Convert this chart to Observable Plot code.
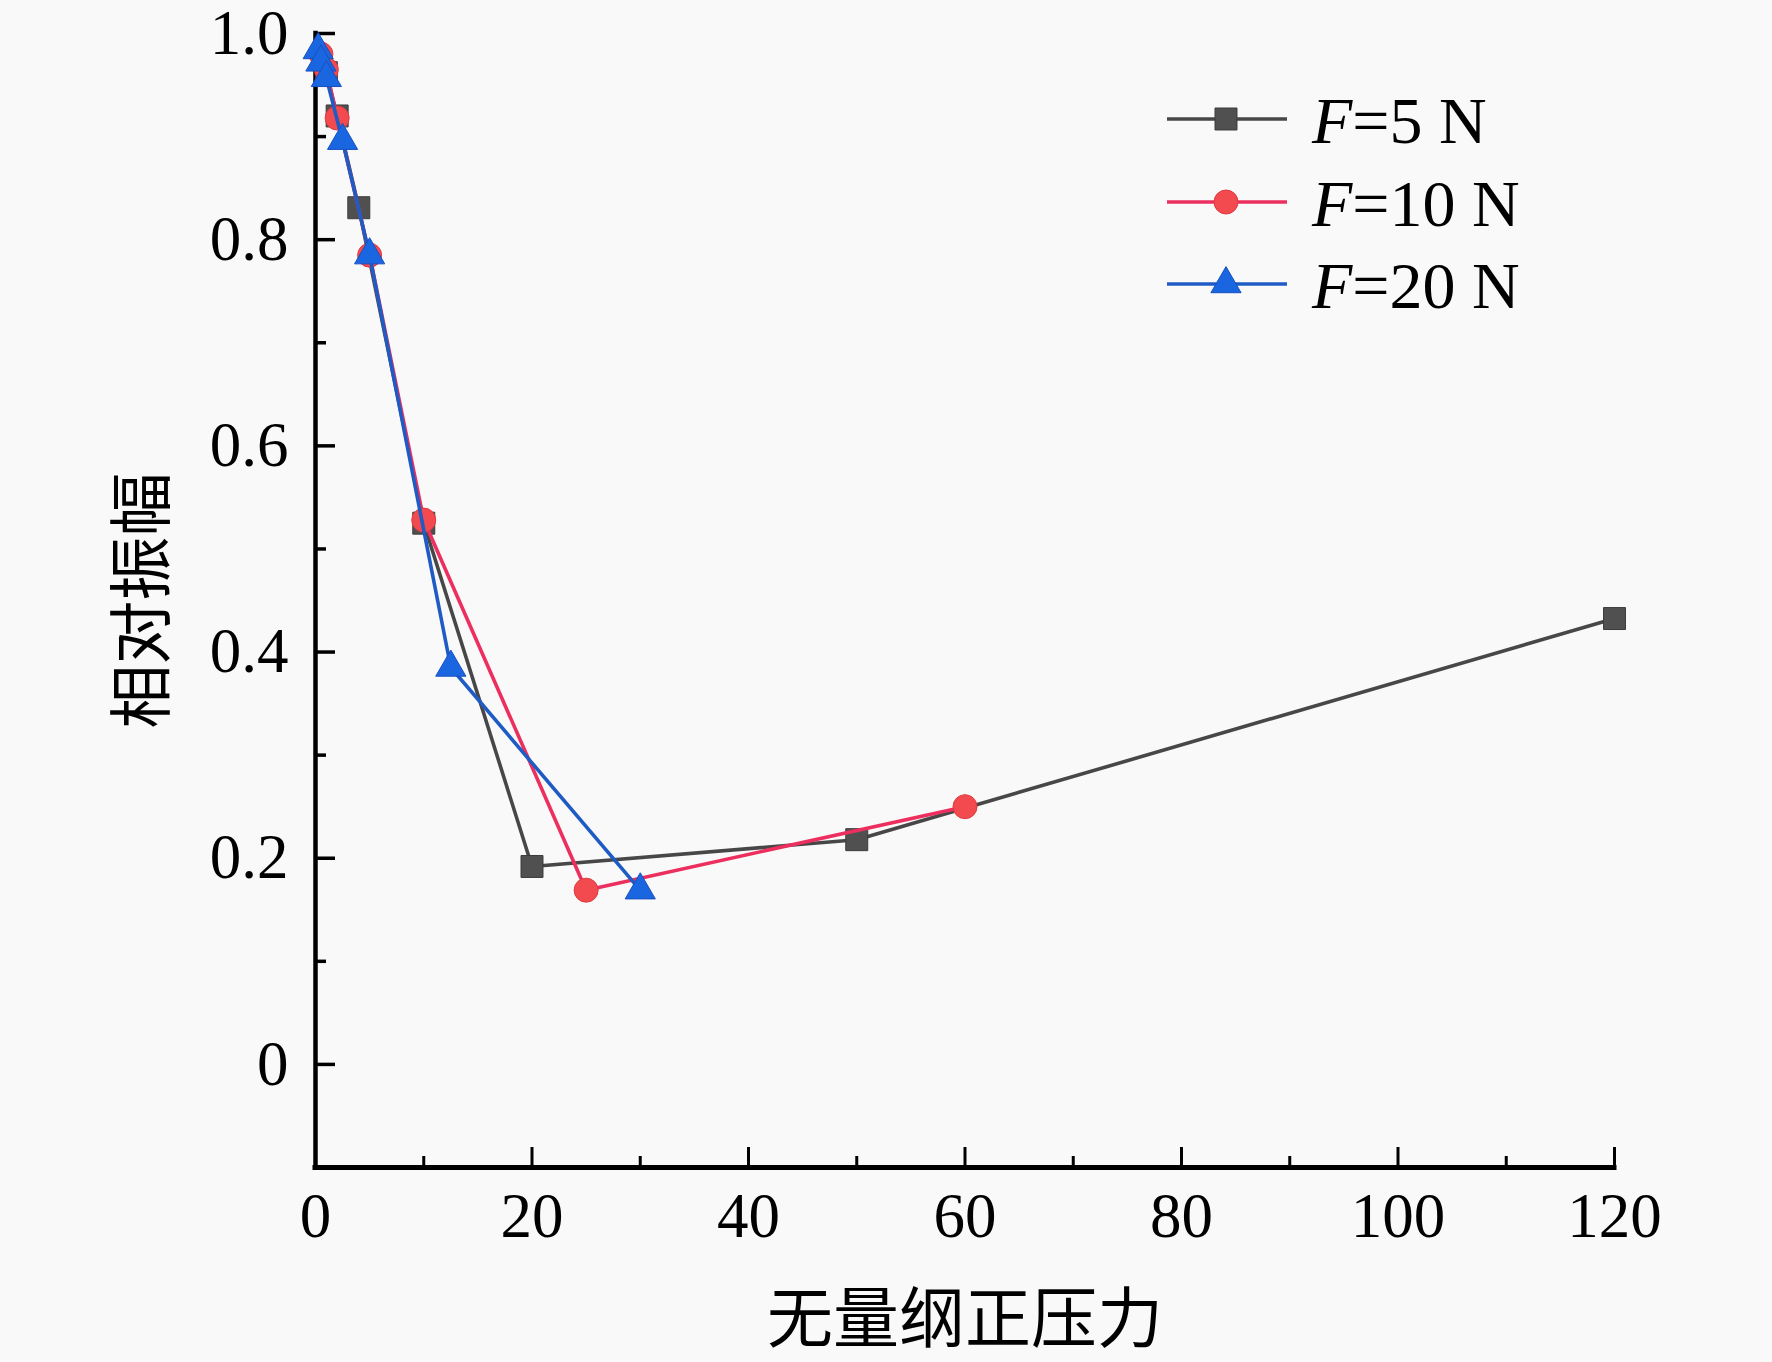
<!DOCTYPE html>
<html>
<head>
<meta charset="utf-8">
<script src="https://cdn.jsdelivr.net/npm/d3@7"></script>
<script src="https://cdn.jsdelivr.net/npm/@observablehq/plot@0.6"></script>
<style>
  html, body { margin: 0; padding: 0; background: #f9f9f9; }
  #chart { width: 1772px; height: 1362px; }
</style>
</head>
<body>
<div id="chart"></div>
<script>
// ---- data ----
const seriesNames = ["F=5 N", "F=10 N", "F=20 N"];
const x5 = [1, 2, 4, 10, 20, 50, 120];
const y5 = [0.962, 0.92, 0.831, 0.525, 0.192, 0.218, 0.4325];
const x10 = [0.5, 1, 2, 5, 10, 25, 60];
const y10 = [0.98, 0.965, 0.918, 0.785, 0.528, 0.169, 0.25];
const x20 = [0.25, 0.5, 1, 2.5, 5, 12.5, 30];
const y20 = [0.984, 0.972, 0.957, 0.896, 0.785, 0.385, 0.169];
const xMajor = [0, 20, 40, 60, 80, 100, 120];
const xMinor = [10, 30, 50, 70, 90, 110];
const yMajor = [0, 0.2, 0.4, 0.6, 0.8, 1.0];
const yMinor = [0.1, 0.3, 0.5, 0.7, 0.9];
const xTitle = "无量纲正压力";
const yTitle = "相对振幅";

// ---- styles ----
const lineColors = ["#474747", "#ec2f5e", "#1f5bc4"];
const fillColors = ["#505050", "#f24a4f", "#1a66e0"];
const strokeColors = ["#3c3c3c", "#e03a40", "#1850c0"];
const symbols = ["square", "circle", "triangle"];
const radii = [12.4, 12, 11.2];

const W = 1772, H = 1362, mL = 315, mR = 158, mT = 33, mB = 195;
const xDom = [0, 120], yDom = [-0.1, 1.0];
const kx = (W - mL - mR) / (xDom[1] - xDom[0]);
const ky = (H - mT - mB) / (yDom[1] - yDom[0]);
const majorLen = 20, minorLen = 11;
const serif = "'Liberation Serif', 'Times New Roman', serif";
const cjk = "'Noto Sans CJK SC', sans-serif";

const rowsOf = (xs, ys) => xs.map((x, i) => ({x, y: ys[i]}));
const series = [rowsOf(x5, y5), rowsOf(x10, y10), rowsOf(x20, y20)];

const dataMarks = [];
series.forEach((rows, i) => {
  dataMarks.push(Plot.line(rows, {x: "x", y: "y", stroke: lineColors[i], strokeWidth: 3.6}));
  dataMarks.push(Plot.dot(rows, {x: "x", y: "y", symbol: symbols[i], r: radii[i],
    fill: fillColors[i], stroke: strokeColors[i], strokeWidth: 1}));
});

const chart = Plot.plot({
  width: W, height: H,
  marginLeft: mL, marginRight: mR, marginTop: mT, marginBottom: mB,
  style: {fontFamily: serif, fontSize: "63px", background: "#f9f9f9", color: "black", overflow: "visible"},
  x: {domain: xDom, ticks: xMajor, tickSize: 0, tickPadding: 25, tickFormat: d => String(d), label: null},
  y: {domain: yDom, ticks: yMajor, tickSize: 0, tickPadding: 27, tickFormat: d => d === 0 ? "0" : d.toFixed(1), label: null},
  marks: [
    // tick marks (inward)
    Plot.ruleY(yMajor, {y: d => d, x1: xDom[0], x2: xDom[0] + majorLen / kx, stroke: "black", strokeWidth: 3.5}),
    Plot.ruleY(yMinor, {y: d => d, x1: xDom[0], x2: xDom[0] + minorLen / kx, stroke: "black", strokeWidth: 3.5}),
    Plot.ruleX(xMajor, {x: d => d, y1: yDom[0], y2: yDom[0] + majorLen / ky, stroke: "black", strokeWidth: 3}),
    Plot.ruleX(xMinor, {x: d => d, y1: yDom[0], y2: yDom[0] + minorLen / ky, stroke: "black", strokeWidth: 3}),
    // axis lines
    Plot.ruleX([xDom[0]], {y1: yDom[0], y2: yDom[1], stroke: "black", strokeWidth: 4.5, strokeLinecap: "square"}),
    Plot.ruleY([yDom[0]], {x1: xDom[0], x2: xDom[1], stroke: "black", strokeWidth: 5, strokeLinecap: "square"}),
    ...dataMarks,
    // axis titles
    Plot.text([yTitle], {text: d => d, frameAnchor: "left", dx: -172, rotate: -90,
      textAnchor: "middle", lineAnchor: "middle",
      fontFamily: cjk, fontSize: 64, fill: "black"}),
    Plot.text([xTitle], {text: d => d, frameAnchor: "bottom", dy: 153,
      textAnchor: "middle", lineAnchor: "middle",
      fontFamily: cjk, fontSize: 66, fill: "black"})
  ]
});
document.getElementById("chart").appendChild(chart);

// ---- legend (inside the plot area, upper right) ----
const svg = d3.select(chart.tagName.toLowerCase() === "svg" ? chart : chart.querySelector("svg"));
const lg = svg.append("g").attr("class", "legend").attr("text-anchor", "start");
const rowY = [119, 202, 284];
seriesNames.forEach((name, i) => {
  const g = lg.append("g").attr("transform", `translate(0,${rowY[i]})`);
  g.append("line").attr("x1", 1167).attr("x2", 1287).attr("y1", 0).attr("y2", 0)
    .attr("stroke", lineColors[i]).attr("stroke-width", 3.6);
  const sym = {square: d3.symbolSquare, circle: d3.symbolCircle, triangle: d3.symbolTriangle}[symbols[i]];
  g.append("path").attr("d", d3.symbol(sym, Math.PI * radii[i] * radii[i])())
    .attr("transform", "translate(1226,0)")
    .attr("fill", fillColors[i]).attr("stroke", strokeColors[i]).attr("stroke-width", 1);
  const t = g.append("text").attr("x", 1312).attr("y", 24).attr("text-anchor", "start")
    .attr("font-family", serif).attr("font-size", 66).attr("fill", "black");
  t.append("tspan").attr("font-style", "italic").text(name.slice(0, 1));
  t.append("tspan").text(name.slice(1));
});
</script>
</body>
</html>
